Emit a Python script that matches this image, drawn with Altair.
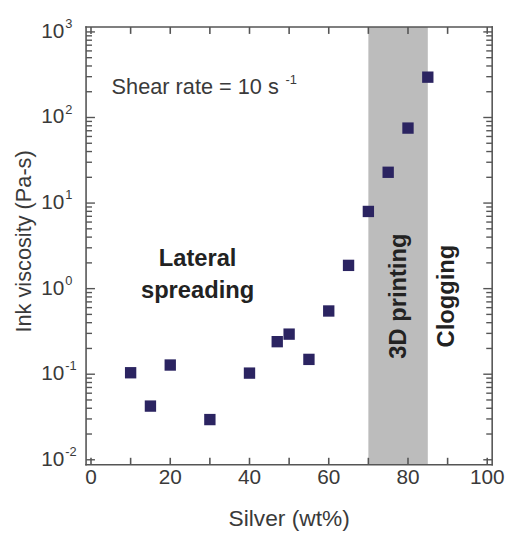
import altair as alt
import pandas as pd

# ---- data ----
silver = [10, 15, 20, 30, 40, 47, 50, 55, 60, 65, 70, 75, 80, 85]
viscosity = [0.104, 0.0424, 0.128, 0.0295, 0.103, 0.240, 0.294, 0.149, 0.548, 1.87, 7.98, 22.9, 75.2, 296]

band_start = [70]
band_end = [85]

x_tick_values = [0, 10, 20, 30, 40, 50, 60, 70, 80, 90, 100]
x_label_values = [0, 20, 40, 60, 80, 100]
x_label_text = ["0", "20", "40", "60", "80", "100"]
y_major_values = [0.01, 0.1, 1, 10, 100, 1000]
y_minor_values = [m * 10.0 ** d for d in range(-2, 3) for m in range(2, 10)]
y_label_base = ["10", "10", "10", "10", "10", "10"]
y_label_exp = ["-2", "-1", "0", "1", "2", "3"]

x_title = ["Silver (wt%)"]
y_title = ["Ink viscosity (Pa-s)"]

note_text = ["Shear rate = 10 s"]
note_sup = ["-1"]
note_x = [5.2]
note_y = [224]

bold_text = ["Lateral", "spreading"]
bold_x = [26.9, 26.9]
bold_y = [1.83, 0.774]

rot_text = ["3D printing", "Clogging"]
rot_x = [77.8, 89.9]
rot_y = [0.817, 0.817]

# ---- styling ----
W, H = 411, 443
FONT = "Liberation Sans"
FRAME = "#555555"
TXT = "#3a3a3a"

xs = alt.Scale(domain=[0, 100], nice=False, zero=False)
ys = alt.Scale(type="log", domain=[0.01, 1000], nice=False)

df = pd.DataFrame({"silver": silver, "visc": viscosity})
band_df = pd.DataFrame({"x0": band_start, "x1": band_end})
note_df = pd.DataFrame({"x": note_x, "y": note_y, "t": note_text, "s": note_sup})
bold_df = pd.DataFrame({"x": bold_x, "y": bold_y, "t": bold_text})
rot_df = pd.DataFrame({"x": rot_x, "y": rot_y, "t": rot_text})
xt_df = pd.DataFrame({"xv": x_tick_values})
xl_df = pd.DataFrame({"lv": x_label_values, "t": x_label_text})
ylab_df = pd.DataFrame({"yl": y_major_values, "b": y_label_base, "e": y_label_exp})
ymaj_df = pd.DataFrame({"yv": y_major_values})
ymin_df = pd.DataFrame({"ym": y_minor_values})
xt_title_df = pd.DataFrame({"t": x_title})
yt_title_df = pd.DataFrame({"t": y_title})


def X(field):
    return alt.X(field, type="quantitative", scale=xs, axis=None)


def Y(field):
    return alt.Y(field, type="quantitative", scale=ys, axis=None)


band = alt.Chart(band_df).mark_rect(color="#bcbcbc").encode(
    x=X("x0"), x2="x1:Q", y=alt.value(0), y2=alt.value(H),
)

points = alt.Chart(df).mark_square(size=132, color="#2b2461", opacity=1).encode(
    x=X("silver"), y=Y("visc"),
)

# tick labels
x_labels = alt.Chart(xl_df).mark_text(
    align="center", baseline="middle", font=FONT, fontSize=21, color=TXT
).encode(x=X("lv"), y=alt.value(H + 14), text="t:N")

y_labels = alt.Chart(ylab_df).mark_text(
    align="right", baseline="middle", font=FONT, fontSize=21, color=TXT
).encode(y=Y("yl"), x=alt.value(-22), text="b:N")

y_exps = alt.Chart(ylab_df).mark_text(
    align="left", baseline="middle", font=FONT, fontSize=13, color=TXT, dy=-8, dx=1
).encode(y=Y("yl"), x=alt.value(-22), text="e:N")

# axis titles
x_title_m = alt.Chart(xt_title_df).mark_text(
    align="center", baseline="middle", font=FONT, fontSize=23, color=TXT
).encode(x=alt.value(W / 2), y=alt.value(H + 55), text="t:N")

y_title_m = alt.Chart(yt_title_df).mark_text(
    align="center", baseline="middle", font=FONT, fontSize=22, color=TXT, angle=270
).encode(x=alt.value(-63), y=alt.value(217), text="t:N")

note = alt.Chart(note_df).mark_text(
    align="left", baseline="middle", font=FONT, fontSize=22, color=TXT
).encode(x=X("x"), y=Y("y"), text="t:N")

note_s = alt.Chart(note_df).mark_text(
    align="left", baseline="middle", font=FONT, fontSize=13, color=TXT, dx=176, dy=-8
).encode(x=X("x"), y=Y("y"), text="s:N")

bold = alt.Chart(bold_df).mark_text(
    align="center", baseline="alphabetic", font=FONT, fontSize=24,
    fontWeight="bold", color="#222222"
).encode(x=X("x"), y=Y("y"), text="t:N")

rot = alt.Chart(rot_df).mark_text(
    align="center", baseline="middle", font=FONT, fontSize=24,
    fontWeight="bold", color="#222222", angle=270
).encode(x=X("x"), y=Y("y"), text="t:N")


# ticks drawn as thin filled bars, positioned by the scales
def xticks(y0, y1):
    return alt.Chart(xt_df).mark_bar(color=FRAME, size=1.6).encode(
        x=X("xv"), y=alt.value(y0), y2=alt.value(y1),
    )


def yticks(data, field, x0, x1):
    return alt.Chart(data).mark_bar(color=FRAME, size=1.4, orient="horizontal").encode(
        y=Y(field), x=alt.value(x0), x2=alt.value(x1),
    )


tick_layers = [
    xticks(H, H - 7), xticks(0, 7),
    yticks(ymaj_df, "yv", 0, 9), yticks(ymaj_df, "yv", W, W - 9),
    yticks(ymin_df, "ym", 0, 6), yticks(ymin_df, "ym", W, W - 6),
]


def edge(x0, x1, y0, y1):
    return alt.Chart(band_df).mark_rect(color=FRAME).encode(
        x=alt.value(x0), x2=alt.value(x1), y=alt.value(y0), y2=alt.value(y1),
    )


frame_layers = [
    edge(-0.8, W + 0.8, -0.8, 0.8), edge(-0.8, W + 0.8, H - 0.8, H + 0.8),
    edge(-0.8, 0.8, -0.8, H + 0.8), edge(W - 0.8, W + 0.8, -0.8, H + 0.8),
]

chart = alt.layer(
    band, points,
    x_labels, y_labels, y_exps, x_title_m, y_title_m,
    note, note_s, bold, rot,
    *tick_layers, *frame_layers,
).properties(
    width=W, height=H,
    autosize=alt.AutoSizeParams(type="none"),
    padding={"left": 79, "top": 16, "right": 15, "bottom": 75},
).configure_view(stroke="transparent")

chart.save("out.html", embed_options={"renderer": "svg", "actions": False})
